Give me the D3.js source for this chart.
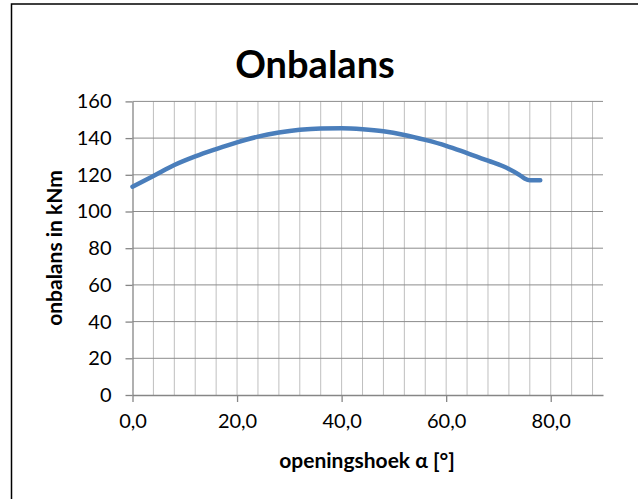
<!DOCTYPE html>
<meta charset="utf-8">
<body style="margin:0;background:#fff">
<script src="https://d3js.org/d3.v7.min.js"></script>
<script>
// openingshoek (graden) en onbalans (kNm)
var hoek = [0, 4, 8, 12, 16, 20, 24, 28, 32, 36, 40, 44, 48, 52, 56, 60, 64, 68, 72, 74, 75, 76, 78];
var onbalans = [113.5, 119.3, 125.3, 130, 134, 137.7, 140.8, 143, 144.5, 145.2, 145.3, 144.8, 143.7, 141.7, 139, 135.8, 131.8, 127.7, 123.2, 120, 118, 117, 117];
var xTicks = [0, 20, 40, 60, 80];
var yTicks = [0, 20, 40, 60, 80, 100, 120, 140, 160];
var xGrid = d3.range(0, 90, 4);

var width = 638, height = 499;
var plotLeft = 132.5, plotRight = 603, plotTop = 101.4, plotBottom = 395;
var font = "Lato, 'Open Sans', sans-serif";

var svg = d3.select("body").append("svg")
    .attr("width", width)
    .attr("height", height);

// kader
svg.append("rect")
    .attr("x", 11.5).attr("y", 4)
    .attr("width", 640).attr("height", 520)
    .attr("fill", "none")
    .attr("stroke", "#000")
    .attr("stroke-width", 1.5);

var x = d3.scaleLinear().domain([0, 90]).range([plotLeft, plotRight]);
var y = d3.scaleLinear().domain([0, 160]).range([plotBottom, plotTop]);

// verticale rasterlijnen
svg.append("g").selectAll("line")
  .data(xGrid.slice(1))
  .enter().append("line")
    .attr("x1", d => x(d)).attr("x2", d => x(d))
    .attr("y1", plotTop).attr("y2", plotBottom)
    .attr("stroke", "#bfbfbf").attr("stroke-width", 1);

// horizontale rasterlijnen
svg.append("g").selectAll("line")
  .data(yTicks.slice(1))
  .enter().append("line")
    .attr("x1", plotLeft).attr("x2", plotRight)
    .attr("y1", d => y(d)).attr("y2", d => y(d))
    .attr("stroke", "#8c8c8c").attr("stroke-width", 1);

var xAxis = svg.append("g")
    .attr("transform", "translate(0," + plotBottom + ")")
    .call(d3.axisBottom(x).tickValues(xTicks).tickSize(7).tickSizeOuter(0).tickPadding(12)
      .tickFormat(d => d3.format(".1f")(d).replace(".", ",")));

var yAxis = svg.append("g")
    .attr("transform", "translate(" + plotLeft + ",0)")
    .call(d3.axisLeft(y).tickValues(yTicks).tickSize(7).tickSizeOuter(0).tickPadding(14));

[xAxis, yAxis].forEach(function(a) {
  a.select(".domain").attr("stroke", "#868686").attr("stroke-width", 1.3);
  a.selectAll(".tick line").attr("stroke", "#868686").attr("stroke-width", 1.3);
  a.selectAll("text")
    .attr("font-family", font)
    .attr("font-size", 20)
    .attr("fill", "#000");
});

var line = d3.line()
    .x((d, i) => x(hoek[i]))
    .y(d => y(d))
    .curve(d3.curveMonotoneX);

svg.append("path")
    .datum(onbalans)
    .attr("d", line)
    .attr("fill", "none")
    .attr("stroke", "#4a7ebb")
    .attr("stroke-width", 4.5)
    .attr("stroke-linecap", "round");

svg.append("text")
    .attr("x", 315).attr("y", 78)
    .attr("text-anchor", "middle")
    .attr("font-family", font)
    .attr("font-weight", "bold")
    .attr("font-size", 38)
    .text("Onbalans");

svg.append("text")
    .attr("x", 367).attr("y", 468)
    .attr("text-anchor", "middle")
    .attr("font-family", font)
    .attr("font-weight", "bold")
    .attr("font-size", 21)
    .text("openingshoek α [°]");

svg.append("text")
    .attr("transform", "translate(62,248) rotate(-90)")
    .attr("text-anchor", "middle")
    .attr("font-family", font)
    .attr("font-weight", "bold")
    .attr("font-size", 21)
    .text("onbalans in kNm");
</script>
</body>
